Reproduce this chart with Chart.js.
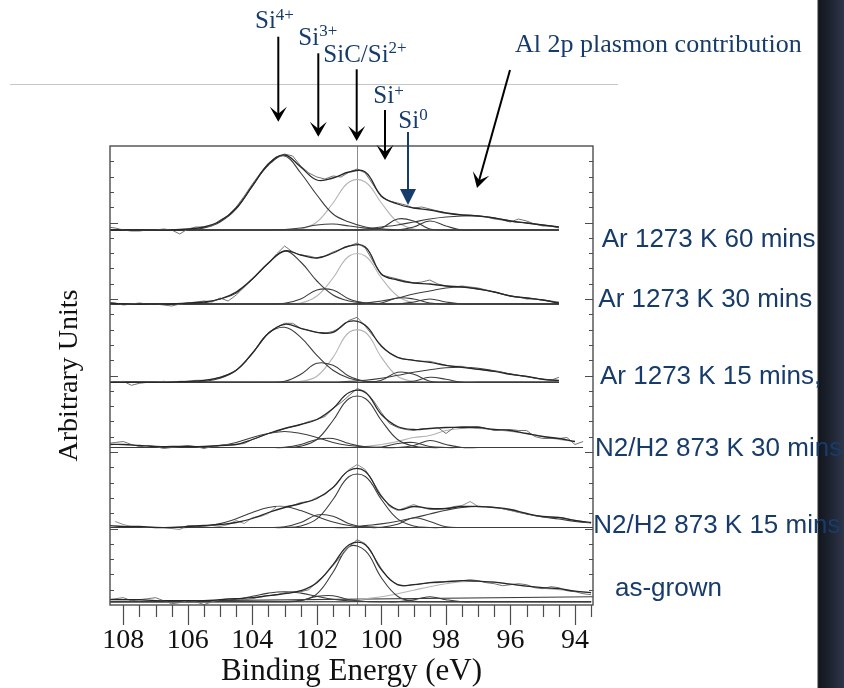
<!DOCTYPE html>
<html>
<head>
<meta charset="utf-8">
<script src="https://cdn.jsdelivr.net/npm/chart.js@4.4.1/dist/chart.umd.min.js"></script>
<style>
  html, body { margin: 0; padding: 0; background: #fff; }
  #wrap { position: relative; width: 844px; height: 688px; }
</style>
</head>
<body>
<div id="wrap"><canvas id="xpsChart" width="844" height="688"></canvas></div>
<script>
// --- Data (heights above each spectrum's own baseline) ---
const N = null;

// binding energy grids (eV): fitted curves every 0.5 eV, raw spectra every 0.25 eV
const energy = [108.5,108,107.5,107,106.5,106,105.5,105,104.5,104,103.5,103,102.5,102,101.5,101,100.5,100,99.5,99,98.5,98,97.5,97,96.5,96,95.5,95,94.5,94,93.5];
const energyFine = [108.5,108.25,108,107.75,107.5,107.25,107,106.75,106.5,106.25,106,105.75,105.5,105.25,105,104.75,104.5,104.25,104,103.75,103.5,103.25,103,102.75,102.5,102.25,102,101.75,101.5,101.25,101,100.75,100.5,100.25,100,99.75,99.5,99.25,99,98.75,98.5,98.25,98,97.75,97.5,97.25,97,96.75,96.5,96.25,96,95.75,95.5,95.25,95,94.75,94.5,94.25,94,93.75,93.5];

const xTickValues = [108, 106, 104, 102, 100, 98, 96, 94];
const xMinorStep = 0.5;
const yTickStep = 15.3;
const yMajorEvery = 5;
const sicMarkerEv = 100.76;

const sampleLabels = ['Ar 1273 K 60 mins', 'Ar 1273 K 30 mins', 'Ar 1273 K 15 mins,', 'N2/H2 873 K 30 mins', 'N2/H2 873 K 15 mins', 'as-grown'];
const peakNames = ['Si', 'Si', 'SiC/Si', 'Si', 'Si'];
const peakCharges = ['4+', '3+', '2+', '+', '0'];
const plasmonNote = 'Al 2p plasmon contribution';

// vertical offset of each spectrum and where its baseline ends
const panelBase = [375, 301, 222.7, 157.5, 77.5, 3.3];
const panelEnd = [94.5, 94.5, 94.5, 93.75, 93.3, 93.3];
const panelRise = [0, 0, 0, 0, 0, 5];

// Ar 1273 K 60 mins
const ar60Raw = [3,2,0,-1,-1,0,0,1,0,-4,1,3,3,4,10,14,23,34,46,57,67,73,76,74,64,57,53,51,54,53,58,61,57,45,33,29,27,25,22,23,21,19,17,16,15,15,14,13,11,10,8,11,9,6,4,4,2,N,N,N,N];
const ar60Fit = [0,0,0,0,0,1,3,9,22,44,66,75,63,50,52,58,58,34,26,22,20,17,15,14,12,9,7,5,3,N,N];
const ar60Si4 = [0,0,0,0,0,0,2,8,21,44,65,74,57,35,16,8,3,1,0,0,0,0,0,0,0,0,0,0,0,N,N];
const ar60Si3 = [0,0,0,0,0,0,0,0,0,0,0,0.5,2,5,6,4,2,1,0,0,0,0,0,0,0,0,0,0,0,N,N];
const ar60SiC = [0,0,0,0,0,0,0,0,0,0,0,0,1,8,27,48,48,27,8,1,0,0,0,0,0,0,0,0,0,N,N];
const ar60Si1 = [0,0,0,0,0,0,0,0,0,0,0,0,0,0,0,0,0,2,11,9,1,0,0,0,0,0,0,0,0,N,N];
const ar60Si0 = [0,0,0,0,0,0,0,0,0,0,0,0,0,0,0,0,0,0,0,3,9,4,0,0,0,0,0,0,0,N,N];
const ar60Pl  = [0,0,0,0,0,0,0,0,0,0,0,0,0,0,0,0,1,3,5,8,11,13,14,14,12,9,7,5,3,N,N];

// Ar 1273 K 30 mins
const ar30Raw = [2,1,-1,0,1,0,0,-1,-2,0,1,2,3,2,6,3,9,17,25,33,41,50,58,52,49,48,46,48,52,55,58,61,56,42,29,27,25,23,21,22,24,20,18,17,18,17,16,14,12,10,8,7,5,5,4,3,2,N,N,N,N];
const ar30Fit = [1,0,0,0,0,1,2,5,12,25,41,53,49,46,51,58,57,30,24,21,20,18,17,15,12,8,6,4,1,N,N];
const ar30Si4 = [0,0,0,0,0,0,1,5,11,25,41,53,42,23,9,3,1,0,0,0,0,0,0,0,0,0,0,0,0,N,N];
const ar30Si3 = [0,0,0,0,0,0,0,0,0,0,0,0.7,5,14,14,5,1,0,0,0,0,0,0,0,0,0,0,0,0,N,N];
const ar30SiC = [0,0,0,0,0,0,0,0,0,0,0,0,1,8,26,48,48,26,8,1,0,0,0,0,0,0,0,0,0,N,N];
const ar30Si1 = [0,0,0,0,0,0,0,0,0,0,0,0,0,0,0,0,0,1,6,5,1,0,0,0,0,0,0,0,0,N,N];
const ar30Si0 = [0,0,0,0,0,0,0,0,0,0,0,0,0,0,0,0,0,0,0,2,5,2,0,0,0,0,0,0,0,N,N];
const ar30Pl  = [0,0,0,0,0,0,0,0,0,0,0,0,0,0,0,0,1,3,6,10,13,16,17,15,12,8,6,4,1,N,N];

// Ar 1273 K 15 mins
const ar15Raw = [1,0,1,-3,-1,0,0,1,0,1,1,2,2,3,5,8,12,19,29,39,50,55,59,59,54,52,50,49,51,55,62,65,56,46,37,29,25,23,22,21,21,19,17,16,16,14,13,12,11,10,8,7,6,4,3,2,5,N,N,N,N];
const ar15Fit = [0,0,0,0,0,1,2,5,12,29,49,58,54,50,50,61,57,36,25,22,20,17,15,13,11,8,6,3,2,N,N];
const ar15Si4 = [0,0,0,0,0,0,1,4,12,29,49,55,45,27,12,4,1,0,0,0,0,0,0,0,0,0,0,0,0,N,N];
const ar15Si3 = [0,0,0,0,0,0,0,0,0,0,0,1,8,19,17,6,1,0,0,0,0,0,0,0,0,0,0,0,0,N,N];
const ar15SiC = [0,0,0,0,0,0,0,0,0,0,0,0,1,6,25,50,50,25,6,1,0,0,0,0,0,0,0,0,0,N,N];
const ar15Si1 = [0,0,0,0,0,0,0,0,0,0,0,0,0,0,0,0,0,2,10,8,1,0,0,0,0,0,0,0,0,N,N];
const ar15Si0 = [0,0,0,0,0,0,0,0,0,0,0,0,0,0,0,0,0,0,0,1,5,3,0,0,0,0,0,0,0,N,N];
const ar15Pl  = [0,0,0,0,0,0,0,0,0,0,0,0,0,0,0,1,2,4,7,10,12.5,14.5,15,14,11.5,8.5,5.5,3.3,1.8,N,N];

// N2/H2 873 K 30 mins
const nh30Raw = [4,5,6,3,1,2,1,-1,0,1,2,1,-1,1,2,3,3,4,8,11,14,16,19,21,23,26,28,31,39,45,52,59,56,47,35,24,20,18,17,19,19,20,14,20,21,21,21,19,17,18,18,17,17,11,9,9,9,10,3,6,N];
const nh30Fit = [3,3,2,1,1,1,1,2,3,8,14,19,23,28,39,55,55,33,21,18,19,20,20,20,18,17,14,11,9,6,N];
const nh30Si4 = [0,0,0,0,0,0,0.7,2,5,10,14,16,14,10,5,2,0.7,0,0,0,0,0,0,0,0,0,0,0,0,0,N];
const nh30Si3 = [0,0,0,0,0,0,0,0,0,0,0,0.3,3,8,9,4,0.6,0,0,0,0,0,0,0,0,0,0,0,0,0,N];
const nh30SiC = [0,0,0,0,0,0,0,0,0,0,0,0,1.4,8,27,49,49,27,8,1.4,0,0,0,0,0,0,0,0,0,0,N];
const nh30Si1 = [0,0,0,0,0,0,0,0,0,0,0,0,0,0,0,0,0,0.5,4,5,1,0,0,0,0,0,0,0,0,0,N];
const nh30Si0 = [0,0,0,0,0,0,0,0,0,0,0,0,0,0,0,0,0,0,0,2,7,3,0,0,0,0,0,0,0,0,N];
const nh30Pl  = [0,0,0,0,0,0,0,0,0,0,0,0,0,0,0,0,1,3,6,10,12,17,19,19,18,16,14,11,8,6,N];

// N2/H2 873 K 15 mins
const nh15Raw = [N,6,3,1,1,0,0,0,-1,-2,2,2,1,2,1,3,7,4,10,11,14,21,21,22,25,26,30,33,40,50,58,63,58,45,32,21,17,20,23,20,18,18,19,21,22,26,21,21,20,19,17,15,14,12,11,10,10,9,7,6,5];
const nh15Fit = [2,1,1,0,0,1,2,3,5,9,15,20,24,29,40,57,56,31,18,21,19,19,21,21,20,18,14,11,10,7,5];
const nh15Si4 = [0,0,0,0,0,0,1.4,3.9,8.7,15,20,21,17,11,5.5,2,0.6,0,0,0,0,0,0,0,0,0,0,0,0,0,0];
const nh15Si3 = [0,0,0,0,0,0,0,0,0,0,0,0.8,5,12.5,11.3,3.8,0.5,0,0,0,0,0,0,0,0,0,0,0,0,0,0];
const nh15SiC = [0,0,0,0,0,0,0,0,0,0,0,0,1.5,8.6,28,51,51,28,8.6,1.5,0,0,0,0,0,0,0,0,0,0,0];
const nh15Si1 = [0,0,0,0,0,0,0,0,0,0,0,0,0,0,0,0,0,0.2,3.2,9.7,6,0.8,0,0,0,0,0,0,0,0,0];
const nh15Pl  = [0,0,0,0,0,0,0,0,0,0,0,0,0,0,0,0,1.9,3.6,6.2,9.6,13.5,17.3,20,21,20,17.3,13.5,10.5,8.5,6,4.5];

// as-grown
const agRaw = [2,3,4,1,2,3,4,1,-2,-1,1,0,-3,0,2,3,3,2,3,5,6,7,9,10,10,12,20,27,36,46,55,62,58,46,33,22,17,16,17,18,19,19,20,20,21,22,21,19,18,16,17,18,17,14,13,15,14,11,10,8,7];
const agFit = [2,2,2,1,1,1,1,2,3,4,6,8,11,19,37,57,57,32,17,17,19,20,21,20.5,19.5,17.5,15.5,14,13,10.5,9];
const agSi4 = [0,0,0,0,0,0,0,0.8,2.5,5.4,8.6,10,8.6,5.4,2.5,0.8,0.2,0,0,0,0,0,0,0,0,0,0,0,0,0,0];
const agSi3 = [0,0,0,0,0,0,0,0,0,0,0,0,1.3,5.3,6,2,0.2,0,0,0,0,0,0,0,0,0,0,0,0,0,0];
const agSiC = [0,0,0,0,0,0,0,0,0,0,0,0,1,7.8,29.5,55,51,24,5.5,0.6,0,0,0,0,0,0,0,0,0,0,0];
const agSi1 = [0,0,0,0,0,0,0,0,0,0,0,0,0,0,0,0,0,0,0,2,5,2,0,0,0,0,0,0,0,0,0];
const agPl  = [0,0,0,0,0,0,0,0,0,0,0,0,0,0,0,0,3,5,8,11.5,15,18,20,20.5,19.5,17.5,15.5,13.5,12,10.5,9];

// --- Styles ---
const NAVY = '#173c6b';
const FIT = '#272727';
const RAW = '#727272';
const DARK = '#3c3c3c';
const LIGHT = '#b4b4b4';
const SERIF = '"Liberation Serif", "Times New Roman", serif';
const SANS = '"Liberation Sans", Arial, sans-serif';

const panels = [
    { raw: ar60Raw, rawColor: RAW, fit: ar60Fit, dark: [ar60Si4, ar60Si3, ar60Si1, ar60Si0, ar60Pl], light: [ar60SiC] },
    { raw: ar30Raw, rawColor: RAW, fit: ar30Fit, dark: [ar30Si4, ar30Si3, ar30Si1, ar30Si0, ar30Pl], light: [ar30SiC] },
    { raw: ar15Raw, rawColor: RAW, fit: ar15Fit, dark: [ar15Si4, ar15Si3, ar15Si1, ar15Si0, ar15Pl], light: [ar15SiC] },
    { raw: nh30Raw, rawColor: RAW, fit: nh30Fit, dark: [nh30Si4, nh30Si3, nh30SiC, nh30Si1, nh30Si0], light: [nh30Pl] },
    { raw: nh15Raw, rawColor: '#8e8e8e', fit: nh15Fit, dark: [nh15Si4, nh15Si3, nh15SiC, nh15Si1, nh15Pl], light: [] },
    { raw: agRaw, rawColor: RAW, fit: agFit, dark: [agSi4, agSi3, agSiC, agSi1], light: [agPl] }
];

function pts(xs, ys, base) {
    return xs.map((e, i) => ({ x: e, y: ys[i] === null ? null : base + ys[i] }));
}
function curve(data, color, width, tension) {
    return { data: data, borderColor: color, borderWidth: width, tension: tension, pointRadius: 0, fill: false, spanGaps: false };
}

const datasets = [];
panels.forEach((p, k) => {
    const base = panelBase[k];
    datasets.push(curve(pts(energy, p.fit, base), FIT, 1.3, 0.4));
    datasets.push(curve(pts(energyFine, p.raw, base), p.rawColor, 1, 0));
    p.dark.forEach(s => datasets.push(curve(pts(energy, s, base), DARK, 1.1, 0.4)));
    p.light.forEach(s => datasets.push(curve(pts(energy, s, base), LIGHT, 1.1, 0.4)));
    datasets.push(curve([{ x: energy[0], y: base }, { x: panelEnd[k], y: base + panelRise[k] }], DARK, 1.1, 0));
});

// --- Drawing helpers ---
function drawArrow(c, x1, y1, x2, y2, color, head) {
    const ang = Math.atan2(y2 - y1, x2 - x1);
    c.save();
    c.strokeStyle = color;
    c.fillStyle = color;
    c.lineWidth = 2;
    c.beginPath();
    c.moveTo(x1, y1);
    c.lineTo(x2 - Math.cos(ang) * 7, y2 - Math.sin(ang) * 7);
    c.stroke();
    c.translate(x2, y2);
    c.rotate(ang);
    c.beginPath();
    if (head === 'tri') {
        c.moveTo(0, 0); c.lineTo(-16, -8); c.lineTo(-16, 8);
    } else {
        c.moveTo(0, 0); c.lineTo(-15, -8.5); c.lineTo(-8, 0); c.lineTo(-15, 8.5);
    }
    c.closePath();
    c.fill();
    c.restore();
}

function chargeLabel(c, name, charge, x, y, dy) {
    c.font = '25px ' + SERIF;
    c.fillText(name, x, y);
    const w = c.measureText(name).width;
    c.font = '17px ' + SERIF;
    c.fillText(charge, x + w, y - dy);
}

const decor = {
    id: 'decor',
    beforeDraw(chart) {
        const c = chart.ctx;
        c.save();
        c.fillStyle = '#fff';
        c.fillRect(0, 0, chart.width, chart.height);
        // thin rule across the slide
        c.strokeStyle = '#c6c6c6';
        c.lineWidth = 1;
        c.beginPath(); c.moveTo(10, 84.5); c.lineTo(618, 84.5); c.stroke();
        // dark slide border on the right
        const g = c.createLinearGradient(817, 0, 844, 0);
        g.addColorStop(0, '#cfcfcf');
        g.addColorStop(0.06, '#13161d');
        g.addColorStop(0.55, '#1f2533');
        g.addColorStop(1, '#2e3649');
        c.fillStyle = g;
        c.fillRect(817, 0, 27, chart.height);
        c.restore();
    },
    beforeDatasetsDraw(chart) {
        const { ctx: c, chartArea: a, scales: { x } } = chart;
        const px = Math.round(x.getPixelForValue(sicMarkerEv)) + 0.5;
        c.save();
        c.strokeStyle = '#8c8c8c';
        c.lineWidth = 1;
        c.beginPath(); c.moveTo(px, a.top); c.lineTo(px, a.bottom); c.stroke();
        c.restore();
    },
    afterDatasetsDraw(chart) {
        const { ctx: c, chartArea: a, scales: { x, y } } = chart;
        c.save();
        c.strokeStyle = '#4d4d4d';
        c.lineWidth = 1.4;
        c.strokeRect(a.left, a.top, a.right - a.left, a.bottom - a.top);
        c.lineWidth = 1.2;
        c.beginPath();
        // inward ticks on both sides
        for (let k = 1; k * yTickStep < y.max - 1; k++) {
            const py = Math.round(y.getPixelForValue(k * yTickStep)) + 0.5;
            const len = k % yMajorEvery === 0 ? 8 : 4;
            c.moveTo(a.left, py); c.lineTo(a.left + len, py);
            c.moveTo(a.right, py); c.lineTo(a.right - len, py);
        }
        // outward ticks along the energy axis
        for (let v = Math.ceil(x.min / xMinorStep) * xMinorStep; v <= x.max; v += xMinorStep) {
            const px = Math.round(x.getPixelForValue(v)) + 0.5;
            const len = xTickValues.includes(v) ? 20 : 12;
            c.moveTo(px, a.bottom); c.lineTo(px, a.bottom + len);
        }
        c.stroke();
        c.restore();
    },
    afterDraw(chart) {
        const c = chart.ctx;
        c.save();
        c.fillStyle = NAVY;
        c.textAlign = 'left';
        c.textBaseline = 'alphabetic';
        const labelPos = [[255, 28.3, 8], [298.3, 45, 9.3], [323.3, 61.7, 9], [373.3, 103.3, 7], [398.3, 128.3, 8]];
        peakNames.forEach((n, i) => chargeLabel(c, n, peakCharges[i], labelPos[i][0], labelPos[i][1], labelPos[i][2]));
        c.font = '26px ' + SERIF;
        c.fillText(plasmonNote, 515, 51.7);

        drawArrow(c, 278.3, 36.7, 278.3, 121.7, '#000');
        drawArrow(c, 318.3, 53.3, 318.3, 136.7, '#000');
        drawArrow(c, 356.7, 69.3, 356.7, 141, '#000');
        drawArrow(c, 385, 110, 385, 160, '#000');
        drawArrow(c, 408, 132, 408, 205, NAVY, 'tri');
        drawArrow(c, 510, 70, 477, 188, '#000');

        c.font = '26px ' + SANS;
        c.fillStyle = NAVY;
        const samplePos = [[601.7, 246.7], [598.3, 306.7], [600, 384.3], [595, 456], [593.3, 533.3], [615, 596]];
        sampleLabels.forEach((t, i) => c.fillText(t, samplePos[i][0], samplePos[i][1]));
        c.restore();
    }
};

Chart.defaults.font.family = SERIF;

new Chart(document.getElementById('xpsChart').getContext('2d'), {
    type: 'line',
    data: { datasets: datasets },
    options: {
        responsive: false,
        animation: false,
        devicePixelRatio: 1,
        events: [],
        layout: { padding: { top: 146, right: 251, left: 0, bottom: 0 } },
        plugins: { legend: { display: false }, tooltip: { enabled: false } },
        scales: {
            x: {
                type: 'linear',
                reverse: true,
                min: 93.442,
                max: 108.412,
                grid: { display: false, drawTicks: false },
                border: { display: false },
                afterBuildTicks: axis => { axis.ticks = xTickValues.map(v => ({ value: v })); },
                afterFit: axis => { axis.height = 83; },
                ticks: {
                    autoSkip: false,
                    maxRotation: 0,
                    padding: 19,
                    color: '#111',
                    font: { size: 28, family: SERIF },
                    callback: v => String(v)
                },
                title: {
                    display: true,
                    text: 'Binding Energy (eV)',
                    color: '#111',
                    font: { size: 31, family: SERIF, lineHeight: 1 },
                    padding: { top: 0, bottom: 1 }
                }
            },
            y: {
                type: 'linear',
                min: 0,
                max: 459,
                grid: { display: false, drawTicks: false },
                border: { display: false },
                ticks: { display: false },
                afterFit: axis => { axis.width = 110; },
                title: {
                    display: true,
                    text: 'Arbitrary Units',
                    color: '#111',
                    font: { size: 28, family: SERIF },
                    padding: { top: 53, bottom: 0 }
                }
            }
        }
    },
    plugins: [decor]
});
</script>
</body>
</html>
